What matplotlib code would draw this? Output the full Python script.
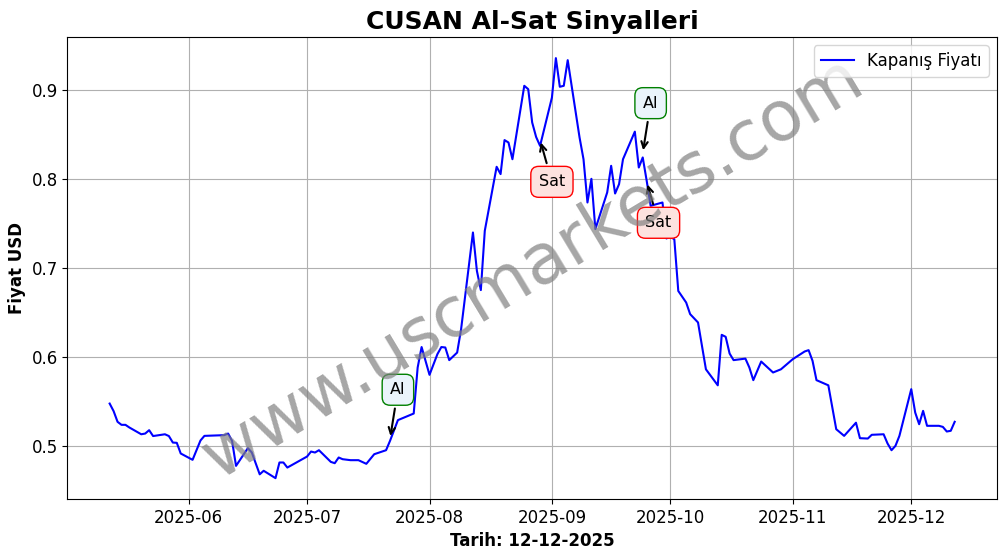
import matplotlib
matplotlib.use('Agg')
import matplotlib.pyplot as plt
import pandas as pd

# closing prices
dates = ['2025-05-12', '2025-05-13', '2025-05-14', '2025-05-15', '2025-05-16', '2025-05-17',
         '2025-05-20', '2025-05-21', '2025-05-22', '2025-05-23', '2025-05-25', '2025-05-26',
         '2025-05-27', '2025-05-28', '2025-05-29', '2025-05-30', '2025-06-02', '2025-06-04',
         '2025-06-05', '2025-06-10', '2025-06-11', '2025-06-12', '2025-06-13', '2025-06-16',
         '2025-06-17', '2025-06-19', '2025-06-20', '2025-06-23', '2025-06-24', '2025-06-25',
         '2025-06-26', '2025-07-01', '2025-07-02', '2025-07-03', '2025-07-04', '2025-07-07',
         '2025-07-08', '2025-07-09', '2025-07-10', '2025-07-12', '2025-07-14', '2025-07-16',
         '2025-07-18', '2025-07-21', '2025-07-22', '2025-07-24', '2025-07-28', '2025-07-29',
         '2025-07-30', '2025-08-01', '2025-08-03', '2025-08-04', '2025-08-05', '2025-08-06',
         '2025-08-08', '2025-08-09', '2025-08-12', '2025-08-13', '2025-08-14', '2025-08-15',
         '2025-08-18', '2025-08-19', '2025-08-20', '2025-08-21', '2025-08-22', '2025-08-25',
         '2025-08-26', '2025-08-27', '2025-08-28', '2025-08-29', '2025-09-01', '2025-09-02',
         '2025-09-03', '2025-09-04', '2025-09-05', '2025-09-08', '2025-09-09', '2025-09-10',
         '2025-09-11', '2025-09-12', '2025-09-15', '2025-09-16', '2025-09-17', '2025-09-18',
         '2025-09-19', '2025-09-22', '2025-09-23', '2025-09-24', '2025-09-25', '2025-09-26',
         '2025-09-29', '2025-09-30', '2025-10-01', '2025-10-02', '2025-10-03', '2025-10-05',
         '2025-10-06', '2025-10-08', '2025-10-10', '2025-10-13', '2025-10-14', '2025-10-15',
         '2025-10-16', '2025-10-17', '2025-10-20', '2025-10-21', '2025-10-22', '2025-10-24',
         '2025-10-27', '2025-10-29', '2025-11-01', '2025-11-04', '2025-11-05', '2025-11-06',
         '2025-11-07', '2025-11-10', '2025-11-12', '2025-11-14', '2025-11-17', '2025-11-18',
         '2025-11-20', '2025-11-21', '2025-11-24', '2025-11-25', '2025-11-26', '2025-11-27',
         '2025-11-28', '2025-12-01', '2025-12-02', '2025-12-03', '2025-12-04', '2025-12-05',
         '2025-12-08', '2025-12-09', '2025-12-10', '2025-12-11', '2025-12-12']
prices = [0.5475, 0.539, 0.527, 0.5236, 0.5236, 0.5206,
          0.513, 0.5138, 0.5176, 0.511, 0.5124, 0.513,
          0.511, 0.5037, 0.5034, 0.4914, 0.4843, 0.506,
          0.5112, 0.512, 0.5138, 0.5056, 0.4775, 0.4974,
          0.4925, 0.468, 0.472, 0.4637, 0.4813, 0.4813,
          0.4756, 0.488, 0.4936, 0.4925, 0.4951, 0.482,
          0.4805, 0.4869, 0.485, 0.4839, 0.4839, 0.4798,
          0.4906, 0.4951, 0.5056, 0.5289, 0.5363, 0.588,
          0.611, 0.5798, 0.603, 0.611, 0.6105, 0.5963,
          0.6048, 0.631, 0.7397, 0.6966, 0.675, 0.7416,
          0.8135, 0.8053, 0.8435, 0.8408, 0.822, 0.9045,
          0.9007, 0.8633, 0.847, 0.837, 0.8913, 0.9356,
          0.9034, 0.9045, 0.9333, 0.8464, 0.822, 0.7734,
          0.80, 0.7435, 0.7847, 0.8146, 0.7835, 0.794,
          0.822, 0.853, 0.8127, 0.824, 0.7978, 0.7697,
          0.7734, 0.733, 0.735, 0.732, 0.674, 0.661,
          0.648, 0.6386, 0.586, 0.568, 0.6247, 0.6225,
          0.6037, 0.5963, 0.598, 0.588, 0.5738, 0.5947,
          0.5824, 0.586, 0.5974, 0.606, 0.6075, 0.5955,
          0.5738, 0.568, 0.5187, 0.5112, 0.526, 0.5086,
          0.5082, 0.5124, 0.513, 0.5026, 0.4951, 0.50,
          0.5112, 0.5637, 0.5374, 0.5243, 0.5393, 0.5225,
          0.5225, 0.5213, 0.5161, 0.5169, 0.527]

# signals: point date/price, text date/price, label
sig_dates = ['2025-07-22', '2025-08-29', '2025-09-24', '2025-09-25']
sig_prices = [0.5079, 0.8438, 0.829, 0.7966]
txt_dates = ['2025-07-24', '2025-09-01', '2025-09-26', '2025-09-28']
txt_prices = [0.563, 0.7966, 0.885, 0.7506]
sig_labels = ['Al', 'Sat', 'Al', 'Sat']

x = pd.to_datetime(dates)

fig, ax = plt.subplots(figsize=(10.06, 5.54), dpi=100)
ax.plot(x, prices, color='blue', label='Kapanış Fiyatı')

for d, p, td, tp, lab in zip(sig_dates, sig_prices, txt_dates, txt_prices, sig_labels):
    if lab == 'Al':
        fc, ec = '#eaf4fb', 'green'
    else:
        fc, ec = '#fde2df', 'red'
    ax.annotate(lab, xy=(pd.Timestamp(d), p), xytext=(pd.Timestamp(td), tp),
                fontsize=11.5, ha='center', va='center',
                bbox=dict(boxstyle='round,pad=0.5', fc=fc, ec=ec),
                arrowprops=dict(arrowstyle='->', color='black', lw=1.5))

ax.text(0.5, 0.5, 'www.uscmarkets.com', transform=ax.transAxes, fontsize=50,
        color='gray', alpha=0.7, rotation=31, ha='center', va='center')

ax.set_title('CUSAN Al-Sat Sinyalleri', fontsize=18, fontweight='bold')
ax.set_xlabel('Tarih: 12-12-2025', fontsize=12, fontweight='bold')
ax.set_ylabel('Fiyat USD', fontsize=12, fontweight='bold')
ax.tick_params(labelsize=12)
ax.grid(True)
ax.legend(loc='upper right', fontsize=12)

plt.subplots_adjust(left=0.067, right=0.991, bottom=0.099, top=0.933)
plt.savefig('out.png')
